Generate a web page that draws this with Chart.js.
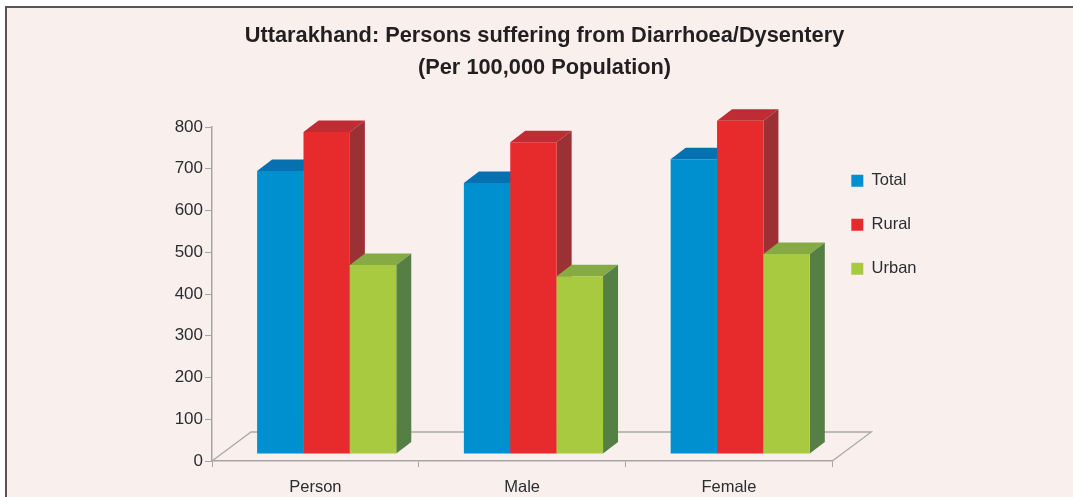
<!DOCTYPE html>
<html>
<head>
<meta charset="utf-8">
<style>
html,body{margin:0;padding:0;background:#fff;overflow:hidden}
#frame{position:absolute;left:5px;top:6px;width:1100px;height:540px;background:#f9f0ee;border:2px solid #555;box-sizing:border-box}
#wrap{position:absolute;left:0;top:0;width:1073px;height:497px}
</style>
<script src="https://cdn.jsdelivr.net/npm/chart.js@4"></script>
</head>
<body>
<div id="frame"></div>
<div id="wrap"><canvas id="c" width="1073" height="497"></canvas></div>
<script>
const titleLines = ['Uttarakhand: Persons suffering from Diarrhoea/Dysentery', '(Per 100,000 Population)'];
const categories = ['Person', 'Male', 'Female'];
const total = [678, 649, 706];
const rural = [771, 747, 798];
const urban = [453, 426, 479];
const seriesNames = ['Total', 'Rural', 'Urban'];
const frontColors = ['#0090d0', '#e72b2d', '#a8ca40'];
const topColors = ['#0670b0', '#bf2c34', '#86aa44'];
const sideColors = ['#0a5c94', '#9b3035', '#567f45'];

const FONT = '"Liberation Sans", Arial, sans-serif';
const depthX = 15, depthY = 11.5;      // bar extrusion
const planeX = 11.3, planeY = -7;      // front plane of bars vs. the axis plane
const floorX = 39, floorY = 29;        // floor depth

function poly(ctx, pts, fill) {
  ctx.beginPath();
  pts.forEach((p, i) => i ? ctx.lineTo(p[0], p[1]) : ctx.moveTo(p[0], p[1]));
  ctx.closePath();
  ctx.fillStyle = fill;
  ctx.fill();
}

const bars3d = {
  id: 'bars3d',
  afterLayout(chart) {
    const l = chart.legend;
    l.left -= 8.5; l.right -= 8.5;
    l.top += 145; l.bottom += 145;
  },
  beforeDatasetsDraw(chart) {
    const ctx = chart.ctx, x = chart.scales.x, y = chart.scales.y;
    const b = y.bottom, L = x.left, R = x.right;
    ctx.save();
    ctx.strokeStyle = '#a9a9a9';
    ctx.lineWidth = 1.3;
    ctx.beginPath();
    ctx.moveTo(L, b);
    ctx.lineTo(L + floorX, b - floorY);
    ctx.lineTo(R + floorX, b - floorY);
    ctx.lineTo(R, b);
    ctx.stroke();
    ctx.restore();
  },
  beforeDatasetDraw() { return false; },
  afterDatasetsDraw(chart) {
    const ctx = chart.ctx;
    ctx.save();
    ctx.translate(planeX, planeY);
    chart.data.datasets.forEach((ds, i) => {
      const meta = chart.getDatasetMeta(i);
      meta.data.forEach(bar => {
        const p = bar.getProps(['x', 'y', 'base', 'width'], true);
        const l = p.x - p.width / 2, r = p.x + p.width / 2;
        poly(ctx, [[l, p.y], [l + depthX, p.y - depthY], [r + depthX, p.y - depthY], [r, p.y]], topColors[i]);
        poly(ctx, [[r, p.y], [r + depthX, p.y - depthY], [r + depthX, p.base - depthY], [r, p.base]], sideColors[i]);
        bar.draw(ctx);
      });
    });
    ctx.restore();
  }
};

new Chart(document.getElementById('c'), {
  type: 'bar',
  data: {
    labels: categories,
    datasets: [total, rural, urban].map((d, i) => ({
      label: seriesNames[i],
      data: d,
      backgroundColor: frontColors[i],
      borderWidth: 0,
      barPercentage: 1,
      categoryPercentage: 0.673
    }))
  },
  options: {
    responsive: false,
    animation: false,
    layout: { padding: { left: 154, right: 138, top: 0, bottom: 0 } },
    plugins: {
      tooltip: { enabled: false },
      title: {
        display: true,
        text: titleLines,
        color: '#231f20',
        font: { family: FONT, size: 21.8, weight: 'bold', lineHeight: 1.468 },
        padding: { top: 20, bottom: 43 }
      },
      legend: {
        display: true,
        position: 'right',
        align: 'start',
        labels: {
          boxWidth: 12,
          boxHeight: 12,
          padding: 27.5,
          color: '#2b2d30',
          font: { family: FONT, size: 16.5 }
        }
      }
    },
    scales: {
      x: {
        afterFit(s) { s.height = 36; },
        grid: { drawOnChartArea: false, color: '#a5a5a5', tickLength: 6 },
        border: { color: '#a5a5a5', width: 1.5 },
        ticks: { color: '#2b2d30', font: { family: FONT, size: 16.5 }, padding: 11, maxRotation: 0 }
      },
      y: {
        min: 0,
        max: 800,
        afterFit(s) { s.width = 58; },
        grid: { drawOnChartArea: false, color: '#a5a5a5', tickLength: 7 },
        border: { color: '#a5a5a5', width: 1.5 },
        ticks: { stepSize: 100, color: '#2b2d30', font: { family: FONT, size: 17 }, padding: 2 }
      }
    }
  },
  plugins: [bars3d]
});
</script>
</body>
</html>
